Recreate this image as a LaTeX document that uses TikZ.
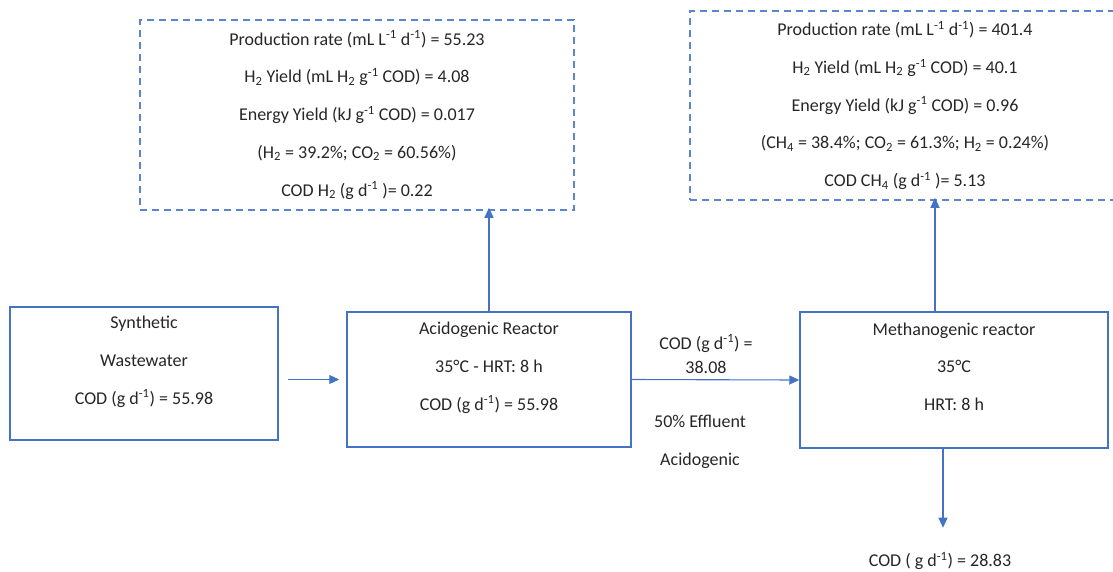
\documentclass[tikz,border=0pt]{standalone}
\usepackage{fontspec}
\setmainfont{Carlito}
\usepackage{xcolor}
\definecolor{wwink}{HTML}{262626}
\definecolor{wwblue}{HTML}{4472C4}
\definecolor{wwdash}{HTML}{5B86CF}
\usetikzlibrary{arrows.meta,positioning,calc}
\tikzset{
  wwbox/.style  ={rectangle, draw=wwblue, line width=1.5pt, inner sep=0pt,
                  align=center, text=wwink, text depth=27pt,
                  font=\fontsize{18}{37.75}\selectfont},
  wwgas/.style  ={rectangle, draw=wwdash, line width=1.5pt, inner sep=0pt,
                  dash pattern=on 7pt off 5pt, align=center, text=wwink,
                  font=\fontsize{18}{37.75}\selectfont},
  wwarrow/.style={-{Triangle[length=10pt,width=9pt]}, line width=1.1pt, draw=wwblue},
  wwlbl/.style  ={align=center, text=wwink, font=\fontsize{18}{24}\selectfont},
}

\begin{document}
\begin{tikzpicture}[x=1pt,y=-1pt]
  \useasboundingbox (0,0) rectangle (1113,571);
  \clip (0,0) rectangle (1113,571);
  % gas output boxes
  \node[wwgas, minimum width=434pt, minimum height=190pt] (gasA) at (357,115)
       {Production rate (mL L\textsuperscript{-1} d\textsuperscript{-1}) = 55.23\\
        H\textsubscript{2} Yield (mL H\textsubscript{2} g\textsuperscript{-1} COD) = 4.08\\
        Energy Yield (kJ g\textsuperscript{-1} COD) = 0.017\\
        (H\textsubscript{2} = 39.2\%; CO\textsubscript{2} = 60.56\%)\\
        COD H\textsubscript{2} (g d\textsuperscript{-1} )= 0.22};
  \node[wwgas, minimum width=430pt, minimum height=189pt] (gasM) at (905,105.5)
       {Production rate (mL L\textsuperscript{-1} d\textsuperscript{-1}) = 401.4\\
        H\textsubscript{2} Yield (mL H\textsubscript{2} g\textsuperscript{-1} COD) = 40.1\\
        Energy Yield (kJ g\textsuperscript{-1} COD) = 0.96\\
        (CH\textsubscript{4} = 38.4\%; CO\textsubscript{2} = 61.3\%; H\textsubscript{2} = 0.24\%)\\
        COD CH\textsubscript{4} (g d\textsuperscript{-1} )= 5.13};
  % reactors
  \node[wwbox, minimum width=268pt, minimum height=133pt] (synth) at (144,373.5)
       {Synthetic\\ Wastewater\\ COD (g d\textsuperscript{-1}) = 55.98};
  \node[wwbox, minimum width=284pt, minimum height=135pt] (acid) at (489,379.5)
       {Acidogenic Reactor\\ 35°C - HRT: 8 h\\ COD (g d\textsuperscript{-1}) = 55.98};
  \node[wwbox, minimum width=308pt, minimum height=136pt] (meth) at (954,380)
       {Methanogenic reactor\\ 35°C\\ HRT: 8 h};
  \node[wwlbl] (feed) at (706,354) {COD (g d\textsuperscript{-1}) =\\ 38.08};
  \node[wwlbl, font=\fontsize{18}{38}\selectfont] (eff) at (700,442) {50\% Effluent\\ Acidogenic};
  \node[wwlbl] (out) at (940,561) {COD ( g d\textsuperscript{-1}) = 28.83};
  % flows
  \draw[wwarrow, shorten <=9pt, shorten >=7pt] (synth.east |- acid.west) -- (acid.west);
  \draw[wwarrow] (acid.east) -- (meth.west);
  \draw[wwarrow, shorten >=-3pt] (acid.north) -- (acid.north |- gasA.south);
  \draw[wwarrow, shorten >=-3pt] ([xshift=-19pt]meth.north) -- ([xshift=-19pt]meth.north |- gasM.south);
  \draw[wwarrow, shorten >=21pt] ([xshift=-11pt]meth.south) -- ([xshift=-11pt]meth.south |- out.north);
\end{tikzpicture}
\end{document}
